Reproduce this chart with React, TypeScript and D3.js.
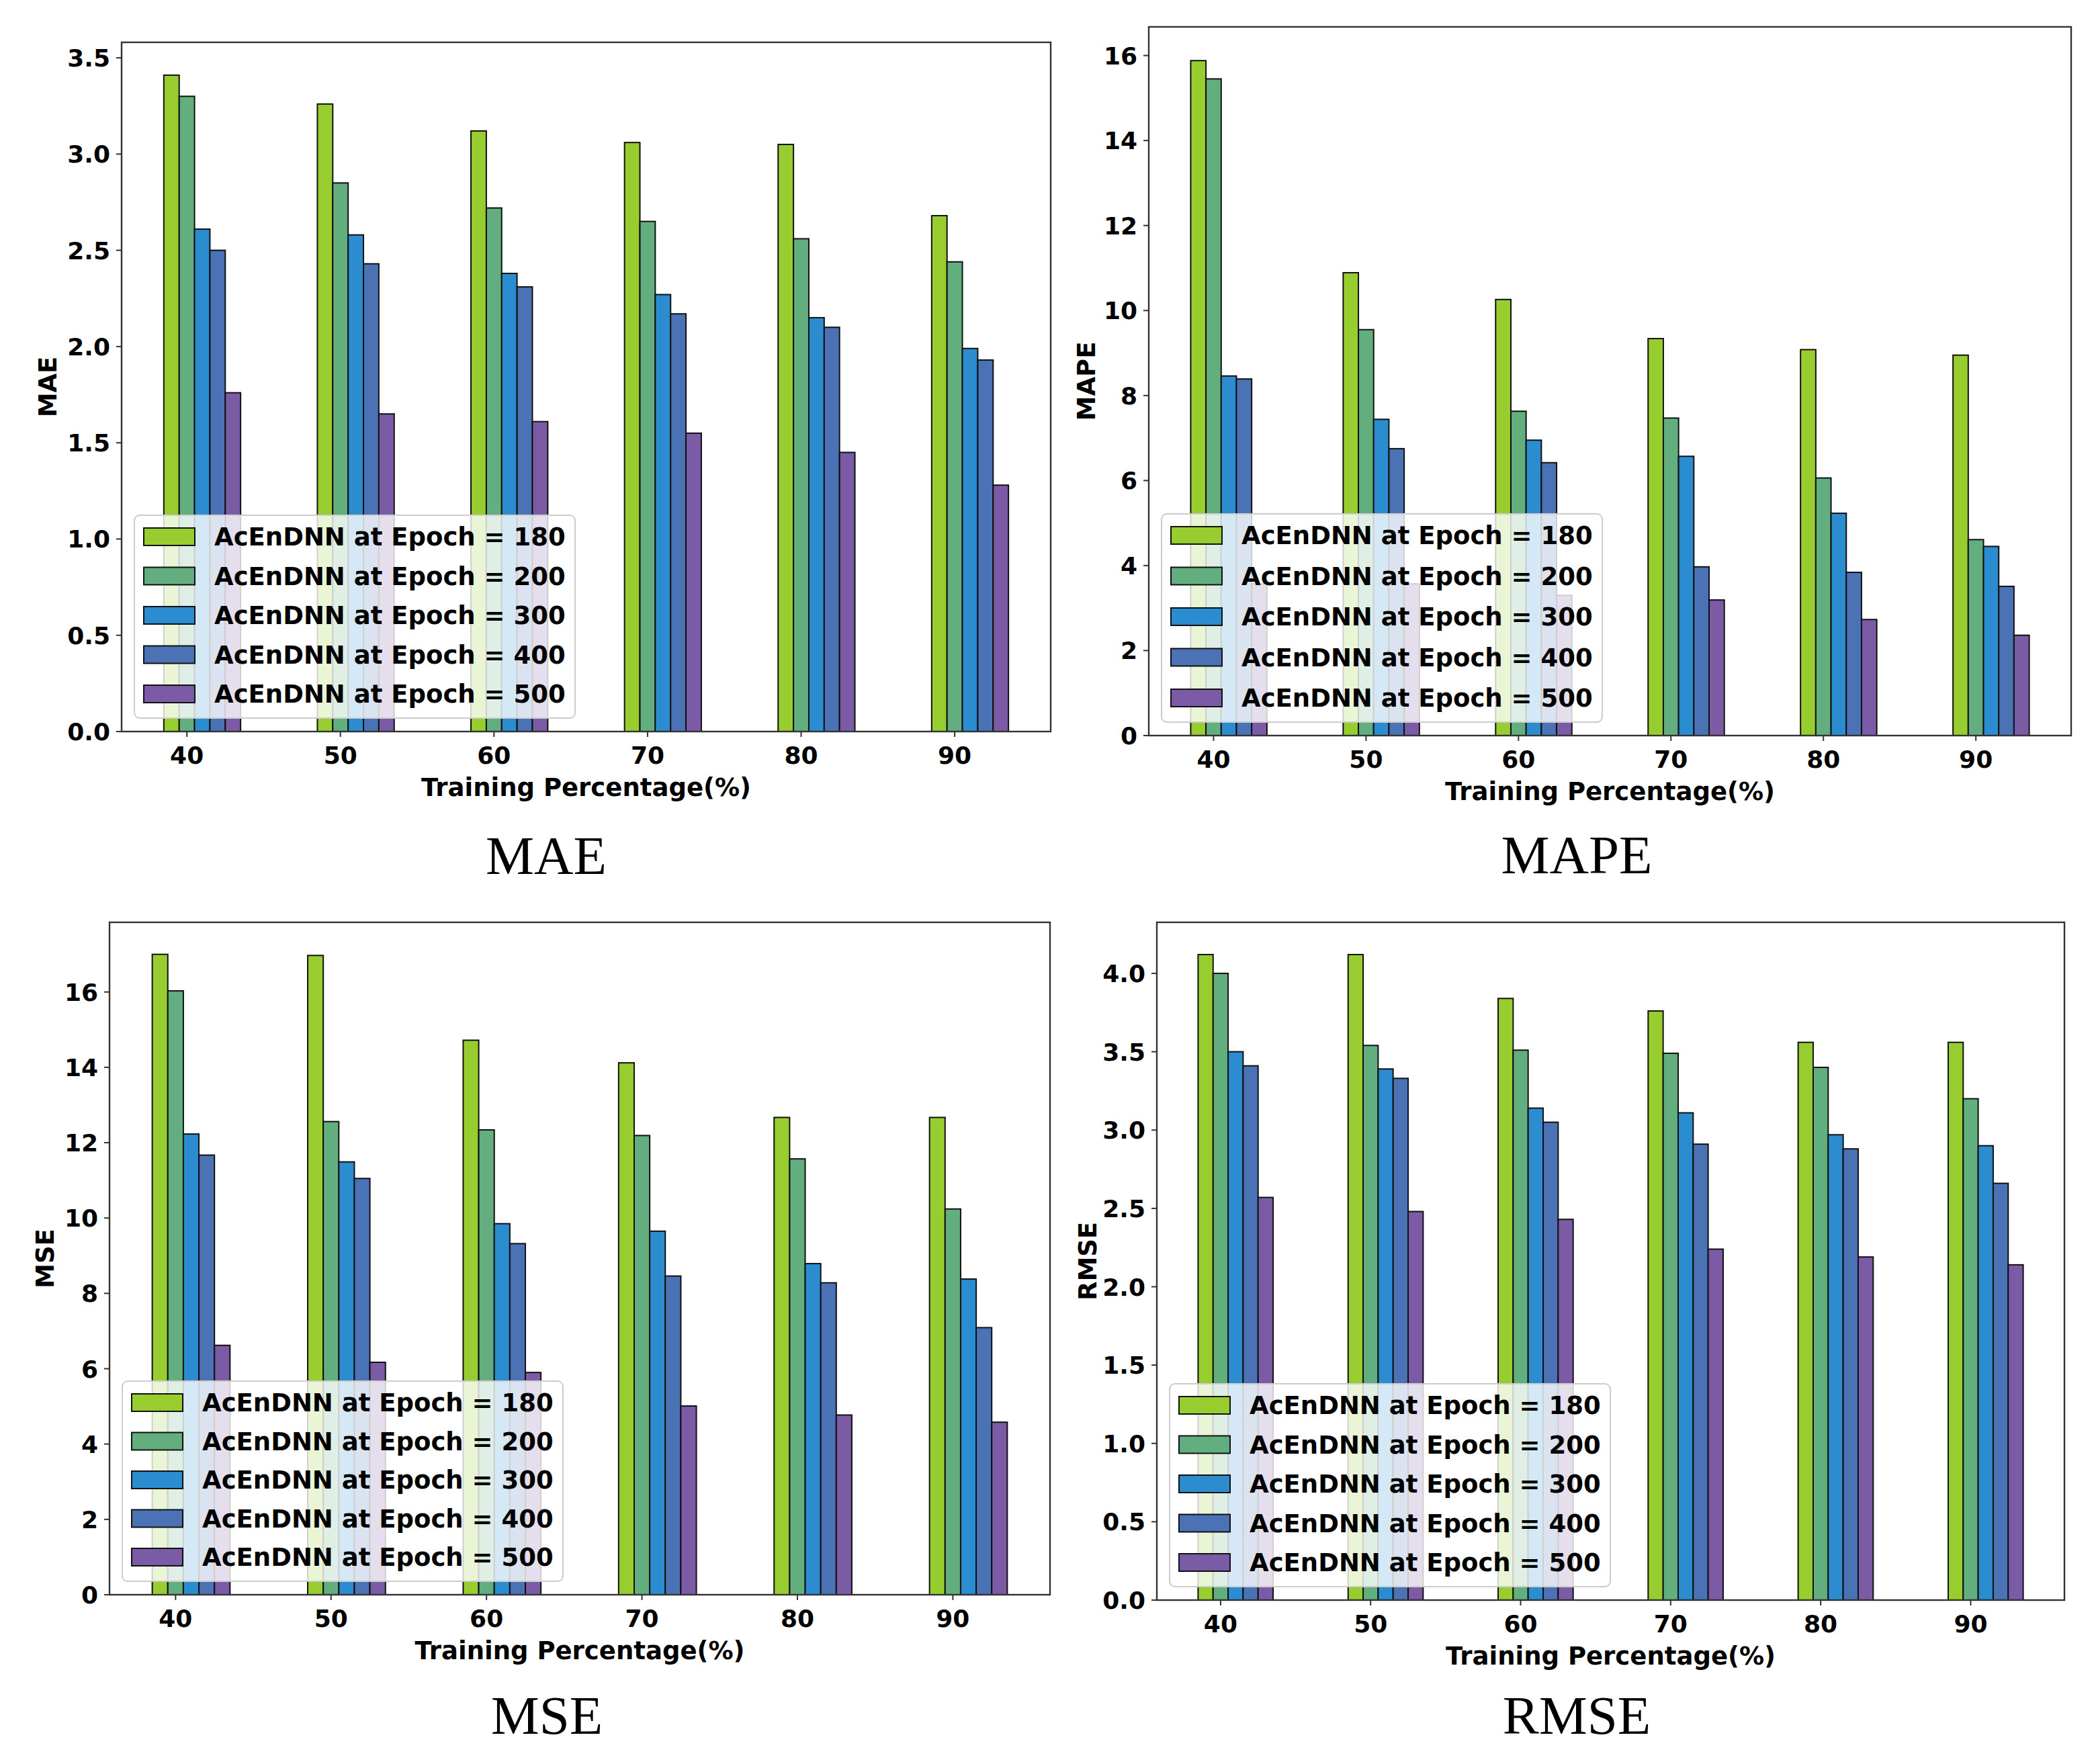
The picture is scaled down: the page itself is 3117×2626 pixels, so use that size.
import * as d3 from "d3"

// Training percentages (x categories) and epoch series
const trainingPct = [40, 50, 60, 70, 80, 90]
const epochs = [180, 200, 300, 400, 500]
const seriesColors = ["#98cd30", "#62ae7f", "#2b8dd0", "#4b72b5", "#7b5ba6"]

// MAE per epoch
const mae180 = [3.41, 3.26, 3.12, 3.06, 3.05, 2.68]
const mae200 = [3.3, 2.85, 2.72, 2.65, 2.56, 2.44]
const mae300 = [2.61, 2.58, 2.38, 2.27, 2.15, 1.99]
const mae400 = [2.5, 2.43, 2.31, 2.17, 2.1, 1.93]
const mae500 = [1.76, 1.65, 1.61, 1.55, 1.45, 1.28]

// MAPE per epoch
const mape180 = [15.88, 10.89, 10.26, 9.34, 9.08, 8.95]
const mape200 = [15.45, 9.55, 7.63, 7.47, 6.06, 4.61]
const mape300 = [8.46, 7.44, 6.95, 6.57, 5.23, 4.45]
const mape400 = [8.39, 6.75, 6.42, 3.97, 3.84, 3.51]
const mape500 = [3.57, 3.57, 3.3, 3.19, 2.73, 2.36]

// MSE per epoch
const mse180 = [17.0, 16.97, 14.72, 14.12, 12.67, 12.67]
const mse200 = [16.03, 12.56, 12.34, 12.19, 11.57, 10.24]
const mse300 = [12.23, 11.49, 9.85, 9.65, 8.79, 8.38]
const mse400 = [11.67, 11.05, 9.32, 8.46, 8.28, 7.09]
const mse500 = [6.62, 6.17, 5.9, 5.01, 4.77, 4.58]

// RMSE per epoch
const rmse180 = [4.12, 4.12, 3.84, 3.76, 3.56, 3.56]
const rmse200 = [4.0, 3.54, 3.51, 3.49, 3.4, 3.2]
const rmse300 = [3.5, 3.39, 3.14, 3.11, 2.97, 2.9]
const rmse400 = [3.41, 3.33, 3.05, 2.91, 2.88, 2.66]
const rmse500 = [2.57, 2.48, 2.43, 2.24, 2.19, 2.14]

// Tick labels
const maeTicks = [0, 0.5, 1, 1.5, 2, 2.5, 3, 3.5]
const mapeTicks = [0, 2, 4, 6, 8, 10, 12, 14, 16]
const mseTicks = [0, 2, 4, 6, 8, 10, 12, 14, 16]
const rmseTicks = [0, 0.5, 1, 1.5, 2, 2.5, 3, 3.5, 4]

const FONT = "'DejaVu Sans', sans-serif"

interface PanelProps {
  name: string
  series: number[][]
  ticks: number[]
  fmt: (v: number) => string
  box: { l: number; t: number; r: number; b: number }
  ylabelX: number
  caption: { x: number; y: number }
  rowGap?: number
}

function Panel({ name, series, ticks, fmt, box, ylabelX, caption, rowGap = 58.5 }: PanelProps) {
  const maxV = d3.max(series.flat()) || 1
  const x = d3.scaleLinear().domain([35.75, 96.25]).range([box.l, box.r])
  const y = d3.scaleLinear().domain([0, maxV * 1.05]).range([box.b, box.t])
  const bw = x(1) - x(0)

  // legend
  const lgW = 656
  const lgH = 32 + 4 * rowGap + 36
  const lgL = box.l + 19
  const lgT = box.b - 20 - lgH

  return (
    <g>
      {series.map((vals, si) =>
        vals.map((v, ci) => (
          <rect
            key={`${si}-${ci}`}
            x={x(trainingPct[ci] + si - 1) - bw / 2}
            y={y(v)}
            width={bw}
            height={y(0) - y(v)}
            fill={seriesColors[si]}
            stroke="#111"
            strokeWidth={2}
          />
        ))
      )}

      {/* frame */}
      <rect x={box.l} y={box.t} width={box.r - box.l} height={box.b - box.t} fill="none" stroke="#333" strokeWidth={2.4} />

      {/* y ticks */}
      {ticks.map((t) => (
        <g key={t}>
          <line x1={box.l - 8} x2={box.l} y1={y(t)} y2={y(t)} stroke="#333" strokeWidth={2} />
          <text x={box.l - 17} y={y(t) + 13} textAnchor="end" fontFamily={FONT} fontWeight="bold" fontSize={36}>
            {fmt(t)}
          </text>
        </g>
      ))}

      {/* x ticks */}
      {trainingPct.map((p) => (
        <g key={p}>
          <line x1={x(p)} x2={x(p)} y1={box.b} y2={box.b + 8} stroke="#333" strokeWidth={2} />
          <text x={x(p)} y={box.b + 48} textAnchor="middle" fontFamily={FONT} fontWeight="bold" fontSize={36}>
            {p}
          </text>
        </g>
      ))}

      <text
        x={(box.l + box.r) / 2}
        y={box.b + 96}
        textAnchor="middle"
        fontFamily={FONT}
        fontWeight="bold"
        fontSize={37}
      >
        Training Percentage(%)
      </text>

      <text
        transform={`translate(${ylabelX},${(box.t + box.b) / 2}) rotate(-90)`}
        textAnchor="middle"
        fontFamily={FONT}
        fontWeight="bold"
        fontSize={37}
      >
        {name}
      </text>

      {/* legend */}
      <rect x={lgL} y={lgT} width={lgW} height={lgH} rx={8} fill="#fff" fillOpacity={0.8} stroke="#ccc" strokeWidth={2} />
      {epochs.map((e, i) => {
        const cy = lgT + 32 + i * rowGap
        return (
          <g key={e}>
            <rect x={lgL + 14} y={cy - 13} width={76} height={26} fill={seriesColors[i]} stroke="#111" strokeWidth={2} />
            <text x={lgL + 119} y={cy + 13} fontFamily={FONT} fontWeight="bold" fontSize={37}>
              {`AcEnDNN at Epoch = ${e}`}
            </text>
          </g>
        )
      })}

      <text x={caption.x} y={caption.y} textAnchor="middle" fontFamily="'Liberation Serif', serif" fontSize={81}>
        {name}
      </text>
    </g>
  )
}

export default function App() {
  const f1 = d3.format(".1f")
  const f0 = d3.format("d")
  return (
    <svg
      width={3117}
      height={2626}
      viewBox="0 0 3117 2626"
      style={{ position: "absolute", left: 0, top: 0, background: "#fff" }}
    >
      <rect x={0} y={0} width={3117} height={2626} fill="#fff" />
      <Panel
        name="MAE"
        series={[mae180, mae200, mae300, mae400, mae500]}
        ticks={maeTicks}
        fmt={f1}
        box={{ l: 181, t: 63, r: 1564, b: 1089 }}
        ylabelX={84}
        caption={{ x: 813, y: 1301 }}
      />
      <Panel
        name="MAPE"
        series={[mape180, mape200, mape300, mape400, mape500]}
        ticks={mapeTicks}
        fmt={f0}
        box={{ l: 1710, t: 40, r: 3083, b: 1095 }}
        ylabelX={1630}
        caption={{ x: 2347, y: 1300 }}
        rowGap={60.5}
      />
      <Panel
        name="MSE"
        series={[mse180, mse200, mse300, mse400, mse500]}
        ticks={mseTicks}
        fmt={f0}
        box={{ l: 163, t: 1373, r: 1563, b: 2374 }}
        ylabelX={80}
        caption={{ x: 814, y: 2581 }}
        rowGap={57.5}
      />
      <Panel
        name="RMSE"
        series={[rmse180, rmse200, rmse300, rmse400, rmse500]}
        ticks={rmseTicks}
        fmt={f1}
        box={{ l: 1722, t: 1373, r: 3073, b: 2382 }}
        ylabelX={1632}
        caption={{ x: 2347, y: 2581 }}
      />
    </svg>
  )
}
